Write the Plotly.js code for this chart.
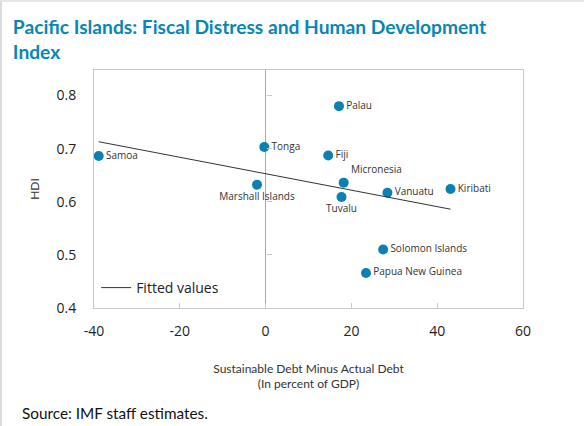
<!DOCTYPE html>
<html>
<head>
<meta charset="utf-8">
<script src="https://cdn.plot.ly/plotly-3.0.1.min.js"></script>
<style>
html,body{margin:0;padding:0;background:#fff;}
#chart{width:584px;height:426px;}
#frame{position:absolute;left:0;top:0;width:582px;height:424px;border-left:2px solid #dcdcdc;border-top:2px solid #e6e6e6;pointer-events:none;}
</style>
</head>
<body>
<div id="chart"></div>
<div id="frame"></div>
<script>
// Data
const countries = ["Samoa","Tonga","Marshall Islands","Palau","Fiji","Micronesia","Tuvalu","Vanuatu","Kiribati","Solomon Islands","Papua New Guinea"];
const debtGap   = [-38.9, -0.3, -2.0, 17.1, 14.6, 18.2, 17.7, 28.4, 43.1, 27.4, 23.4];
const hdi       = [0.686, 0.703, 0.632, 0.780, 0.687, 0.636, 0.609, 0.617, 0.624, 0.510, 0.466];
const labelSide = ["middle right","middle right","bottom center","middle right","middle right","top right","bottom center","middle right","middle right","middle right","middle right"];
const fittedX = [-38.9, 43.1];
const fittedY = [0.713, 0.586];
const xTicks = [-40, -20, 0, 20, 40, 60];
const xTickLabels = ["-40", "-20", "0", "20", "40", "60"];
const yTicks = [0.4, 0.5, 0.6, 0.7, 0.8];
const yTickLabels = ["0.4", "0.5", "0.6", "0.7", "0.8"];

const bodyFont = "'Open Sans', 'Noto Sans', sans-serif";
const narrowFont = "Lato, 'Open Sans', sans-serif";

const traces = [
  {
    type: "scatter", mode: "markers+text",
    x: debtGap, y: hdi, text: countries,
    textposition: labelSide,
    textfont: {family: bodyFont, size: 10, color: "#333333"},
    marker: {color: "#0b80b3", size: 10},
    showlegend: false, hoverinfo: "skip", cliponaxis: false
  },
  {
    type: "scatter", mode: "lines",
    x: fittedX, y: fittedY, yaxis: "y2",
    name: "Fitted values",
    line: {color: "#333333", width: 1},
    showlegend: true, hoverinfo: "skip"
  }
];

const yRange = [0.4, 0.848];

const layout = {
  width: 584, height: 426,
  margin: {l: 94, r: 61, t: 70, b: 118},
  paper_bgcolor: "#ffffff", plot_bgcolor: "#ffffff",
  font: {family: bodyFont, color: "#222222"},
  title: {
    text: "Pacific Islands: Fiscal Distress and Human Development<br>Index",
    font: {family: narrowFont, size: 19.2, color: "#0986b5", weight: "bold"},
    x: 0.022, xref: "container", xanchor: "left",
    y: 0.921, yref: "container", yanchor: "bottom"
  },
  xaxis: {
    range: [-40, 60], tickvals: xTicks, ticktext: xTickLabels,
    showgrid: false,
    zeroline: true, zerolinecolor: "#a8a8a8", zerolinewidth: 1,
    showline: true, mirror: true, linecolor: "#c8c8c8", linewidth: 1,
    ticks: "inside", ticklen: 5, tickcolor: "#c8c8c8",
    tickfont: {family: bodyFont, size: 14, color: "#222222"},
    ticklabelstandoff: 10,
    title: {
      text: "Sustainable Debt Minus Actual Debt<br>(In percent of GDP)",
      font: {family: narrowFont, size: 12, color: "#333333"},
      standoff: 25
    }
  },
  yaxis: {
    range: yRange, tickvals: yTicks, ticktext: yTickLabels,
    showgrid: false, zeroline: false,
    showline: true, mirror: true, linecolor: "#c8c8c8", linewidth: 1,
    ticks: "",
    tickfont: {family: bodyFont, size: 14, color: "#222222"},
    ticklabelstandoff: 14,
    title: {
      text: "HDI",
      font: {family: narrowFont, size: 12, color: "#333333"},
      standoff: 14
    }
  },
  yaxis2: {
    overlaying: "y", anchor: "free", position: 0.4, side: "right",
    range: yRange, tickvals: yTicks,
    showgrid: false, zeroline: false, showline: false,
    showticklabels: false,
    ticks: "outside", ticklen: 5, tickcolor: "#c8c8c8"
  },
  showlegend: true,
  legend: {
    x: 0.005, xanchor: "left", y: 0.084, yanchor: "middle",
    bgcolor: "rgba(0,0,0,0)",
    font: {family: bodyFont, size: 14, color: "#222222"}
  },
  annotations: [
    {
      text: "Source: IMF staff estimates.",
      xref: "paper", yref: "paper",
      x: -0.172, xanchor: "left",
      y: -0.441, yanchor: "middle",
      showarrow: false,
      font: {family: narrowFont, size: 15.3, color: "#111111"}
    }
  ]
};

Plotly.newPlot("chart", traces, layout, {displayModeBar: false, staticPlot: true});
</script>
</body>
</html>
